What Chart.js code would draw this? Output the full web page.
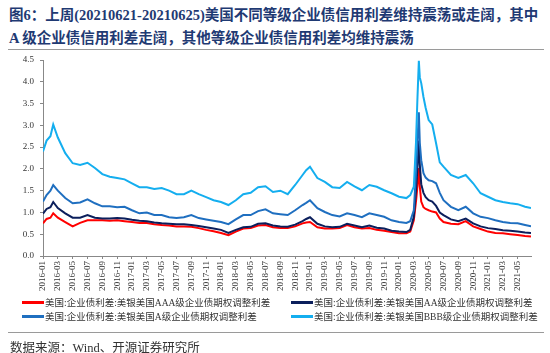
<!DOCTYPE html>
<html>
<head>
<meta charset="utf-8">
<script src="https://cdn.jsdelivr.net/npm/chart.js@4.4.1/dist/chart.umd.min.js"></script>
<style>
  body { margin: 0; width: 550px; height: 353px; background: #fff; position: relative; overflow: hidden;
         font-family: "Liberation Serif", "Noto Sans CJK SC", serif; }
  #title { position: absolute; left: 9px; top: 4px; width: 545px; font-size: 14.5px; font-weight: bold;
           color: #1f3a73; line-height: 23px; white-space: nowrap; }
  .rule { position: absolute; left: 8px; width: 536px; height: 0; border-top: 1.5px solid #9a9a9a; }
  #myChart { position: absolute; left: 0; top: 0; }
  .leg { position: absolute; font-size: 9.5px; color: #333; white-space: nowrap; line-height: 12px; }
  .leg i { display: inline-block; width: 22px; height: 3px; vertical-align: middle; margin-right: 1px; position: relative; top: -1px; }
  #source { position: absolute; left: 10px; top: 337px; font-size: 12.5px; color: #333; white-space: nowrap; }
</style>
</head>
<body>
<div id="title">图6：上周(20210621-20210625)美国不同等级企业债信用利差维持震荡或走阔，其中<br>A 级企业债信用利差走阔，其他等级企业债信用利差均维持震荡</div>
<div class="rule" style="top:49px"></div>
<canvas id="myChart" width="550" height="353"></canvas>
<div id="legend"></div>
<div class="rule" style="top:332px"></div>
<div id="source">数据来源：Wind、开源证券研究所</div>
<script>
const dates = [
  '2016-01-01', '2016-01-16', '2016-02-01', '2016-02-12', '2016-03-01', '2016-04-01', '2016-05-01', '2016-06-01',
  '2016-07-01', '2016-08-01', '2016-09-01', '2016-10-01', '2016-11-01', '2016-12-01',
  '2017-01-01', '2017-02-01', '2017-03-01', '2017-04-01', '2017-05-01', '2017-06-01',
  '2017-07-01', '2017-08-01', '2017-09-01', '2017-10-01', '2017-11-01', '2017-12-01',
  '2018-01-01', '2018-02-01', '2018-03-01', '2018-04-01', '2018-05-01', '2018-06-01',
  '2018-07-01', '2018-08-01', '2018-09-01', '2018-10-01', '2018-11-01', '2018-12-01', '2018-12-16',
  '2019-01-01', '2019-02-01', '2019-03-01', '2019-04-01', '2019-05-01', '2019-06-01',
  '2019-07-01', '2019-08-01', '2019-09-01', '2019-10-01', '2019-11-01', '2019-12-01',
  '2020-01-01', '2020-02-01', '2020-02-16', '2020-03-01', '2020-03-10', '2020-03-16', '2020-03-22', '2020-03-26',
  '2020-04-01', '2020-04-10', '2020-04-19', '2020-05-01', '2020-05-16', '2020-06-01', '2020-06-16',
  '2020-07-01', '2020-08-01', '2020-09-01', '2020-10-01', '2020-11-01', '2020-12-01',
  '2021-01-01', '2021-02-01', '2021-03-01', '2021-04-01', '2021-05-01', '2021-06-01', '2021-06-25',
];

const aaaSpread = [
  0.75, 0.85, 0.88, 0.98, 0.88, 0.78, 0.68, 0.76, 0.82, 0.82, 0.82, 0.81, 0.82, 0.80,
  0.78, 0.76, 0.76, 0.73, 0.71, 0.70, 0.68, 0.68, 0.67, 0.64, 0.60, 0.57,
  0.53, 0.48, 0.56, 0.63, 0.64, 0.70, 0.71, 0.66, 0.64, 0.64, 0.68, 0.75, 0.77,
  0.78, 0.66, 0.63, 0.63, 0.64, 0.71, 0.66, 0.63, 0.64, 0.60, 0.58, 0.55,
  0.52, 0.52, 0.56, 0.82, 1.25, 1.60, 2.02, 1.60, 1.25, 1.12, 1.08, 1.05, 1.02, 1.00, 0.86,
  0.78, 0.74, 0.73, 0.80, 0.68, 0.62, 0.56, 0.53, 0.52, 0.50, 0.48, 0.46, 0.45,
];
const aaSpread = [
  0.97, 1.08, 1.12, 1.24, 1.10, 0.98, 0.88, 0.88, 0.94, 0.88, 0.86, 0.86, 0.87, 0.86,
  0.83, 0.81, 0.80, 0.77, 0.75, 0.74, 0.73, 0.73, 0.71, 0.69, 0.66, 0.63,
  0.60, 0.53, 0.60, 0.66, 0.67, 0.74, 0.75, 0.70, 0.68, 0.67, 0.72, 0.80, 0.85,
  0.89, 0.74, 0.68, 0.66, 0.67, 0.74, 0.70, 0.66, 0.70, 0.65, 0.63, 0.58,
  0.56, 0.55, 0.60, 0.90, 1.50, 2.00, 2.65, 2.10, 1.65, 1.45, 1.35, 1.28, 1.25, 1.15, 1.00,
  0.94, 0.84, 0.80, 0.86, 0.75, 0.68, 0.64, 0.62, 0.59, 0.58, 0.56, 0.54, 0.53,
];
const aSpread = [
  1.25, 1.40, 1.50, 1.63, 1.50, 1.33, 1.21, 1.23, 1.30, 1.21, 1.14, 1.14, 1.12, 1.13,
  1.05, 0.98, 1.00, 0.94, 0.94, 0.89, 0.87, 0.89, 0.94, 0.87, 0.84, 0.81,
  0.78, 0.73, 0.84, 0.94, 0.94, 1.03, 1.07, 0.98, 0.96, 0.94, 1.05, 1.17, 1.22,
  1.28, 1.10, 1.01, 0.94, 0.91, 0.98, 0.94, 0.89, 0.98, 0.94, 0.90, 0.82,
  0.78, 0.76, 0.80, 1.05, 1.90, 2.60, 3.30, 2.60, 2.20, 1.90, 1.80, 1.74, 1.72, 1.67, 1.45,
  1.28, 1.13, 1.05, 1.13, 0.98, 0.90, 0.87, 0.82, 0.78, 0.76, 0.75, 0.71, 0.68,
];
const bbbSpread = [
  2.40, 2.65, 2.75, 3.02, 2.72, 2.36, 2.13, 2.09, 2.14, 2.02, 1.88, 1.82, 1.79, 1.76,
  1.67, 1.58, 1.58, 1.54, 1.56, 1.50, 1.42, 1.42, 1.50, 1.42, 1.35, 1.28,
  1.24, 1.17, 1.28, 1.42, 1.45, 1.58, 1.60, 1.47, 1.50, 1.42, 1.63, 1.86, 1.97,
  2.05, 1.79, 1.70, 1.58, 1.56, 1.70, 1.60, 1.51, 1.63, 1.59, 1.51, 1.44,
  1.36, 1.33, 1.40, 1.59, 2.60, 3.60, 4.48, 4.10, 3.97, 3.65, 3.40, 3.12, 3.02, 2.59, 2.15,
  2.05, 1.86, 1.79, 1.86, 1.67, 1.44, 1.36, 1.28, 1.24, 1.21, 1.19, 1.13, 1.10,
];

const seriesNames = [
  '美国:企业债利差:美银美国AAA级企业债期权调整利差',
  '美国:企业债利差:美银美国AA级企业债期权调整利差',
  '美国:企业债利差:美银美国A级企业债期权调整利差',
  '美国:企业债利差:美银美国BBB级企业债期权调整利差',
];
const seriesColors = ['#ff0000', '#0b1f5c', '#1f6fc0', '#14aeef'];
const seriesValues = [aaaSpread, aaSpread, aSpread, bbbSpread];

// months since 2016-01, fractional
function monthIndex(d) {
  const [y, m, day] = d.split('-').map(Number);
  const dim = new Date(y, m, 0).getDate();
  return (y - 2016) * 12 + (m - 1) + (day - 1) / dim;
}
function monthLabel(v) {
  const y = 2016 + Math.floor(v / 12);
  const m = (v % 12) + 1;
  return y + '-' + (m < 10 ? '0' + m : m);
}

const xs = dates.map(monthIndex);

const ctx = document.getElementById('myChart').getContext('2d');

const myChart = new Chart(ctx, {
  type: 'line',
  data: {
    datasets: seriesValues.map((vals, i) => ({
      label: seriesNames[i],
      data: vals.map((v, j) => ({ x: xs[j], y: v })),
      borderColor: seriesColors[i],
      backgroundColor: seriesColors[i],
      borderWidth: 2,
      pointRadius: 0,
      tension: 0,
      order: 4 - i,
    })),
  },
  options: {
    responsive: false,
    animation: false,
    devicePixelRatio: 1,
    layout: { padding: { top: 60, right: 19, bottom: 57, left: 0 } },
    plugins: { legend: { display: false }, tooltip: { enabled: false } },
    scales: {
      x: {
        type: 'linear',
        min: 0,
        max: xs[xs.length - 1],
        afterBuildTicks: (scale) => {
          const t = [];
          for (let v = 0; v <= scale.max; v += 2) t.push({ value: v });
          scale.ticks = t;
        },
        afterFit: (scale) => { scale.height = 40; },
        grid: { display: true, drawOnChartArea: false, drawTicks: true, tickLength: 3, color: '#888' },
        border: { display: true, color: '#888', width: 1 },
        ticks: {
          autoSkip: false,
          maxRotation: 90,
          minRotation: 90,
          padding: 2,
          color: '#333',
          font: { family: 'Liberation Serif', size: 9 },
          callback: (v) => monthLabel(v),
        },
      },
      y: {
        min: 0,
        max: 4.5,
        afterFit: (scale) => { scale.width = 43; },
        grid: { display: true, drawOnChartArea: false, drawTicks: true, tickLength: 3, color: '#888' },
        border: { display: true, color: '#888', width: 1 },
        ticks: {
          stepSize: 0.5,
          padding: 6,
          color: '#333',
          font: { family: 'Liberation Serif', size: 9 },
          callback: (v) => v.toFixed(1),
        },
      },
    },
  },
});

// legend in two fixed columns
const legend = document.getElementById('legend');
const legPos = [[22, 297], [291, 297], [22, 311], [291, 311]];
seriesNames.forEach((name, i) => {
  const el = document.createElement('div');
  el.className = 'leg';
  el.style.left = legPos[i][0] + 'px';
  el.style.top = legPos[i][1] + 'px';
  el.innerHTML = '<i style="background:' + seriesColors[i] + '"></i>' + name;
  legend.appendChild(el);
});
</script>
</body>
</html>
